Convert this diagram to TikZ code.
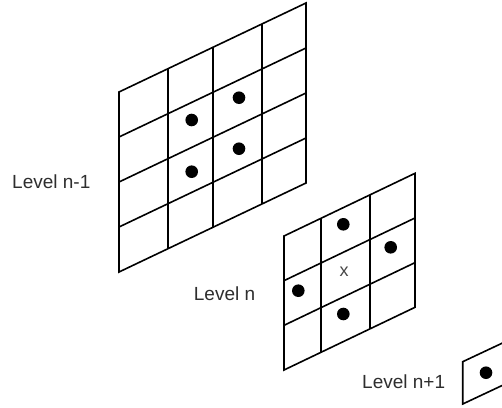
\documentclass[tikz,border=0pt]{standalone}
\usepackage{fontspec}
\newfontfamily\labelfont{Liberation Sans}
\begin{document}
\begin{tikzpicture}[x=1pt,y=-1pt,
  gridline/.style={line width=1.6pt, black},
  spot/.style={fill=black},
  lvl/.style={font=\labelfont\fontsize{19}{21}\selectfont, text=black!82, inner sep=0pt, anchor=base west},
  mark label/.style={font=\labelfont\fontsize{18}{20}\selectfont, text=black!72, inner sep=0pt}]
\useasboundingbox (0,0) rectangle (502,407);
\clip (0,0) rectangle (502,407);

% Level n-1: 4x4 grid
\foreach \j in {1,2,3}
  \draw[gridline] (119,{92+45*\j}) -- (306,{92+45*\j-89});
\foreach \x in {168,213,262}
  \draw[gridline] (\x,{92-0.476*(\x-119)}) -- (\x,{272-0.476*(\x-119)});
\draw[gridline] (119,92) -- (306,3) -- (306,183) -- (119,272) -- cycle;
\foreach \p in {(191.7,120),(239,97.7),(191.7,171.7),(239,148.7)}
  \fill[spot] \p circle (6.3);

% Level n: 3x3 grid
\foreach \j in {1,2}
  \draw[gridline] (284,{236+44.67*\j}) -- (415,{236+44.67*\j-62.7});
\foreach \x in {321,370}
  \draw[gridline] (\x,{236-0.479*(\x-284)}) -- (\x,{370-0.479*(\x-284)});
\draw[gridline] (284,236) -- (415,173.3) -- (415,307.3) -- (284,370) -- cycle;
\foreach \p in {(343.3,224.3),(390.7,247.3),(298.3,290.7),(343.3,314)}
  \fill[spot] \p circle (6.3);
\node[mark label] (centre) at (344,271.7) {x};

% Level n+1: single cell, running off the right side
\draw[gridline] (540,325.4) -- (462.7,361.7) -- (462.7,404) -- (540,367.7);
\fill[spot] (486,372.7) circle (6.3);

% Level labels
\node[lvl] (lvlA) at (12,188.3) {Level n-1};
\node[lvl] (lvlB) at (193.7,300.7) {Level n};
\node[lvl] (lvlC) at (362,388.3) {Level n+1};
\end{tikzpicture}
\end{document}
